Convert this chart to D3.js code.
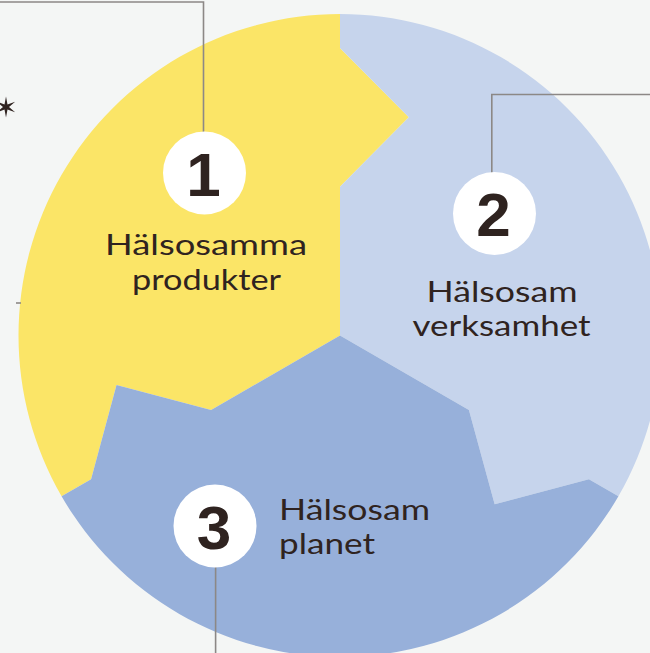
<!DOCTYPE html>
<html><head><meta charset="utf-8">
<script src="https://cdn.jsdelivr.net/npm/d3@7"></script>
<style>html,body{margin:0;padding:0;background:#F4F6F5;overflow:hidden}</style>
</head><body>
<script>
// ---- data ----
const segmentNumbers = ["1", "2", "3"];
const segmentLabels = [["Hälsosamma", "produkter"], ["Hälsosam", "verksamhet"], ["Hälsosam", "planet"]];
const seamAnglesDeg = [-90, 30, 150];           // seam directions (clockwise from +x)
const seamRadiusFrac = [0.463, 0.712, 0.894, 1]; // jagged seam profile (fraction of radius)
const seamOffsetDeg = [0, 17.5, 0, 0];

// ---- layout ----
const W = 650, H = 653;
const cx = 340, cy = 335.5, R = 321.5;
const segFill = ["#FBE567", "#C6D4EC", "#97B0DA"]; // yellow (1), light blue (2), mid blue (3)
const ink = "#2F2320";
const lineCol = "#8C8886";

const svg = d3.select("body").append("svg").attr("width", W).attr("height", H);
svg.append("rect").attr("width", W).attr("height", H).attr("fill", "#F4F6F5");

const rad = d => d * Math.PI / 180;
const rScale = d3.scaleLinear().domain([0, 1]).range([0, R]);
function seamPts(aDeg) {
  return seamRadiusFrac.map((f, i) => {
    const a = rad(aDeg + seamOffsetDeg[i]);
    return [cx + rScale(f) * Math.cos(a), cy + rScale(f) * Math.sin(a)];
  });
}
// segment k spans from seam (k) to seam (k+1) clockwise; left/top region = yellow
// order: yellow = 150 -> 270, light blue = -90 -> 30, mid blue = 30 -> 150
const segRanges = [[150, 270], [-90, 30], [30, 150]];
segRanges.forEach(([a0, a1], k) => {
  const p = d3.path();
  const s0 = seamPts(a0), s1 = seamPts(a1);
  p.moveTo(cx, cy);
  s0.forEach(q => p.lineTo(q[0], q[1]));
  p.arc(cx, cy, R, rad(a0), rad(a1), false);
  s1.slice().reverse().forEach(q => p.lineTo(q[0], q[1]));
  p.closePath();
  svg.append("path").attr("d", p.toString()).attr("fill", segFill[k]);
});

// connector lines
const lines = [
  [[0, 2], [203.5, 2], [203.5, 135]],
  [[650, 94.5], [491.8, 94.5], [491.8, 175]],
  [[215.6, 565], [215.6, 653]],
  [[16, 303], [21, 303]]
];
const lg = d3.line();
lines.forEach(l => svg.append("path").attr("d", lg(l)).attr("fill", "none")
  .attr("stroke", lineCol).attr("stroke-width", 1.6));

// star
const starPts = d3.range(12).map(i => {
  const a = rad(-90 + i * 30);
  const r = i % 2 === 0 ? 10.5 : 3;
  return [6 + r * Math.cos(a), 107 + r * Math.sin(a)];
});
svg.append("path").attr("d", d3.line()(starPts) + "Z").attr("fill", ink);

// number badges
const badgePos = [[204.5, 173], [494.5, 213.5], [215, 526]];
segmentNumbers.forEach((n, i) => {
  const [x, y] = badgePos[i];
  svg.append("circle").attr("cx", x).attr("cy", y).attr("r", 41.5).attr("fill", "#FFFFFF");
  svg.append("text").attr("x", x - 1).attr("y", y + 22.5)
    .attr("text-anchor", "middle")
    .attr("font-family", "Liberation Sans, Arial, sans-serif")
    .attr("font-weight", "bold").attr("font-size", 62).attr("fill", ink).text(n);
});

// labels: [x, baseline, anchor, width]
const labelLayout = [
  [[206, 255, "middle", 202], [206.5, 290, "middle", 149]],
  [[502, 302, "middle", 151], [501.5, 336, "middle", 178]],
  [[279, 520, "start", 151], [279, 554, "start", 96]]
];
segmentLabels.forEach((lines2, i) => {
  lines2.forEach((t, j) => {
    const [x, y, anc, w] = labelLayout[i][j];
    const x0 = anc === "middle" ? x - w / 2 : x;
    svg.append("text").attr("x", x0).attr("y", y)
      .attr("font-family", "Lato, 'Noto Sans', sans-serif")
      .attr("font-size", 29).attr("fill", ink)
      .attr("textLength", w).attr("lengthAdjust", "spacingAndGlyphs")
      .text(t);
  });
});
</script>
</body></html>
